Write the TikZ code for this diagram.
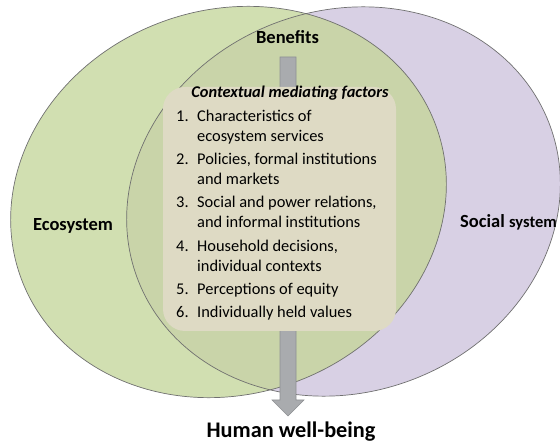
\documentclass[tikz,border=0pt]{standalone}
\usepackage{fontspec}
\setmainfont{Carlito}
\usetikzlibrary{calc}
\definecolor{ecogreen}{HTML}{D1DFB1}
\definecolor{soclav}{HTML}{D8D0E4}
\definecolor{overlapgreen}{HTML}{C9D4A9}
\definecolor{boxbeige}{HTML}{DEDAC4}
\definecolor{edgegray}{HTML}{707070}
\definecolor{arrowfill}{HTML}{A9ABAE}
\definecolor{arrowedge}{HTML}{8E9093}
\tikzset{
  ecoell/.style={rotate around={20:(ecoc)}},
  socell/.style={rotate around={20:(socc)}},
  outline/.style={draw=edgegray, line width=0.7pt},
  bigarrow/.style={fill=arrowfill, draw=arrowedge, line width=0.6pt},
  factorbox/.style={fill=boxbeige, rounded corners=22pt, minimum width=233pt, minimum height=244pt, inner sep=0pt},
  bigtitle/.style={font=\fontsize{18.5}{22}\selectfont\bfseries, anchor=base, inner sep=0pt},
  listtext/.style={font=\fontsize{16.4}{19}\selectfont, anchor=base west, inner sep=0pt},
}
\begin{document}
\begin{tikzpicture}[x=1pt,y=-1pt]
\useasboundingbox (0,0) rectangle (560,446);
\coordinate (ecoc) at (228.5,202);
\coordinate (socc) at (343.5,201.5);
% fills
\fill[soclav, socell] (socc) ellipse [x radius=220, y radius=191];
\fill[ecogreen, ecoell] (ecoc) ellipse [x radius=221, y radius=192];
\begin{scope}
  \clip[ecoell] (ecoc) ellipse [x radius=221, y radius=192];
  \fill[overlapgreen, socell] (socc) ellipse [x radius=220, y radius=191];
\end{scope}
\draw[outline, socell] (socc) ellipse [x radius=220, y radius=191];
\draw[outline, ecoell] (ecoc) ellipse [x radius=221, y radius=192];
% arrow
\coordinate (atop) at (288,57);
\coordinate (abase) at (288,400);
\coordinate (atip) at (288,416);
\draw[bigarrow] ($(atop)+(-8,0)$) -- ($(atop)+(8,0)$) -- ($(abase)+(8,0)$) -- ($(abase)+(16,0)$) -- (atip) -- ($(abase)+(-16,0)$) -- ($(abase)+(-8,0)$) -- cycle;
% box
\node[factorbox] (mbox) at (279.5,209) {};
% titles
\node[bigtitle] (ben) at (287.5,44) {Benefits};
\node[bigtitle, font=\fontsize{22.3}{26}\selectfont\bfseries] (hwb) at (291,438) {Human well-being};
\node[bigtitle] (eco) at (73,231) {Ecosystem};
\node[bigtitle] (soc) at (508.5,228) {Social {\fontsize{16.5}{19}\selectfont system}};
\node[listtext, anchor=base, font=\fontsize{16.4}{19}\selectfont\bfseries\itshape] (head) at (290,98) {Contextual mediating factors};
% list
\node[listtext] (n1) at (176,121.5) {1.};
\node[listtext] (t1a) at (197,121.5) {Characteristics of};
\node[listtext] (t1b) at (197,141.5) {ecosystem services};
\node[listtext] (n2) at (176,164.5) {2.};
\node[listtext] (t2a) at (197,164.5) {Policies, formal institutions};
\node[listtext] (t2b) at (197,184.5) {and markets};
\node[listtext] (n3) at (176,207.5) {3.};
\node[listtext] (t3a) at (197,207.5) {Social and power relations,};
\node[listtext] (t3b) at (197,227.5) {and informal institutions};
\node[listtext] (n4) at (176,251.5) {4.};
\node[listtext] (t4a) at (197,251.5) {Household decisions,};
\node[listtext] (t4b) at (197,271.5) {individual contexts};
\node[listtext] (n5) at (176,294.5) {5.};
\node[listtext] (t5a) at (197,294.5) {Perceptions of equity};
\node[listtext] (n6) at (176,317.5) {6.};
\node[listtext] (t6a) at (197,317.5) {Individually held values};
\end{tikzpicture}
\end{document}
